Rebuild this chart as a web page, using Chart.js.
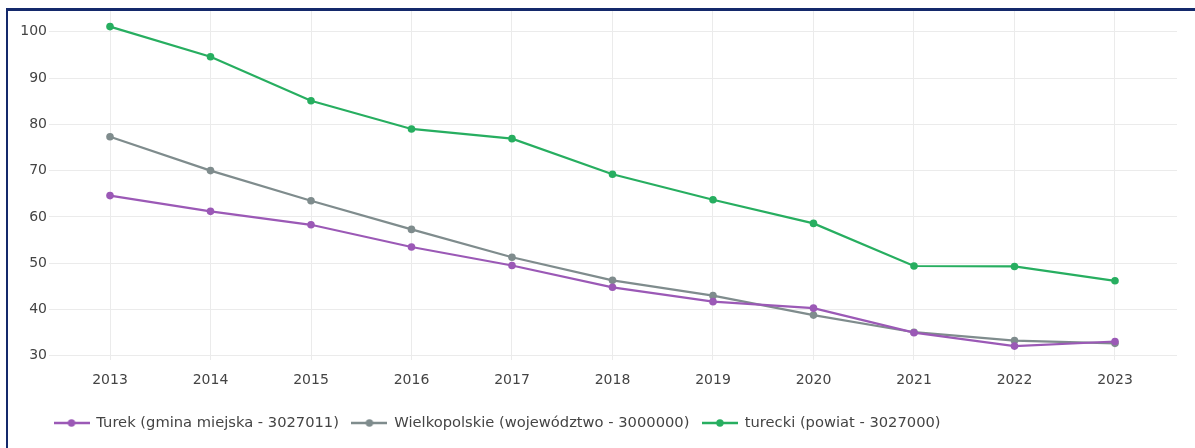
<!DOCTYPE html>
<html>
<head>
<meta charset="utf-8">
<script src="https://cdn.jsdelivr.net/npm/chart.js@4/dist/chart.umd.min.js"></script>
<style>
  html, body { margin: 0; padding: 0; background: #fff; }
  #wrap { position: relative; width: 1195px; height: 448px; }
  #frame {
    position: absolute; left: 6px; top: 8px; right: 0; bottom: 0;
    border-top: 3px solid #14296b; border-left: 2px solid #14296b;
    pointer-events: none;
  }
</style>
</head>
<body>
<div id="wrap">
  <canvas id="line-chart" width="1195" height="448"></canvas>
  <div id="frame"></div>
</div>
<script>
const years = [2013, 2014, 2015, 2016, 2017, 2018, 2019, 2020, 2021, 2022, 2023];
const yTicks = [30, 40, 50, 60, 70, 80, 90, 100];

const seriesNames = [
    'Turek (gmina miejska - 3027011)',
    'Wielkopolskie (województwo - 3000000)',
    'turecki (powiat - 3027000)'
];
const turek = [64.6, 61.2, 58.3, 53.5, 49.5, 44.8, 41.7, 40.3, 35.0, 32.1, 33.1];
const wielkopolskie = [77.3, 70.0, 63.5, 57.3, 51.3, 46.3, 43.0, 38.8, 35.1, 33.3, 32.7];
const turecki = [101.1, 94.6, 85.1, 79.0, 76.9, 69.2, 63.7, 58.6, 49.4, 49.3, 46.2];
const colors = ['#9b59b6', '#7f8c8d', '#27ae60'];

const tickFont = { family: "'DejaVu Sans', Verdana, sans-serif", size: 14 };
const legendFont = { family: "'DejaVu Sans', Verdana, sans-serif", size: 14.7 };

// legend marker: short line with a dot in the middle
function legendMarker(color) {
    const c = document.createElement('canvas');
    c.width = 36;
    c.height = 10;
    const g = c.getContext('2d');
    g.strokeStyle = color;
    g.lineWidth = 2.5;
    g.beginPath();
    g.moveTo(0, 5);
    g.lineTo(36, 5);
    g.stroke();
    g.fillStyle = color;
    g.beginPath();
    g.arc(18, 5, 3.7, 0, Math.PI * 2);
    g.fill();
    return c;
}

// shift the legend right so it starts under the plot, like the original
const legendShift = {
    id: 'legendShift',
    afterLayout: (chart) => { chart.legend.left = 41; }
};

const ctx = document.getElementById('line-chart');
const allSeries = [turek, wielkopolskie, turecki];

new Chart(ctx, {
    type: 'line',
    plugins: [legendShift],
    data: {
        datasets: allSeries.map((vals, i) => ({
            label: seriesNames[i],
            data: vals.map((v, j) => ({ x: years[j], y: v })),
            borderColor: colors[i],
            backgroundColor: colors[i],
            pointBackgroundColor: colors[i],
            pointBorderWidth: 0,
            pointRadius: 3.8,
            borderWidth: 2.2,
            tension: 0
        }))
    },
    options: {
        responsive: false,
        animation: false,
        layout: {
            padding: { left: 0, right: 18, top: 11, bottom: 7.65 }
        },
        scales: {
            x: {
                type: 'linear',
                min: 2012.393,
                max: 2023.617,
                afterBuildTicks: (axis) => { axis.ticks = years.map(v => ({ value: v })); },
                afterFit: (axis) => { axis.height = 42.65; },
                ticks: {
                    color: '#444',
                    font: tickFont,
                    padding: 12,
                    maxRotation: 0,
                    autoSkip: false,
                    callback: (v) => String(v)
                },
                grid: { color: '#ebebeb', drawTicks: false },
                border: { display: false }
            },
            y: {
                min: 29.1,
                max: 104.47,
                afterBuildTicks: (axis) => { axis.ticks = yTicks.map(v => ({ value: v })); },
                afterFit: (axis) => { axis.width = 49; },
                ticks: {
                    color: '#444',
                    font: tickFont,
                    padding: 2,
                    callback: (v) => String(v)
                },
                grid: { color: '#ebebeb', drawTicks: false },
                border: { display: false }
            }
        },
        plugins: {
            legend: {
                position: 'bottom',
                align: 'start',
                labels: {
                    color: '#444',
                    font: legendFont,
                    padding: 13,
                    usePointStyle: true,
                    pointStyleWidth: 35,
                    generateLabels: (chart) => {
                        const items = Chart.defaults.plugins.legend.labels.generateLabels(chart);
                        items.forEach((it, i) => { it.pointStyle = legendMarker(colors[i]); });
                        return items;
                    }
                }
            },
            tooltip: { enabled: false }
        }
    }
});
</script>
</body>
</html>
